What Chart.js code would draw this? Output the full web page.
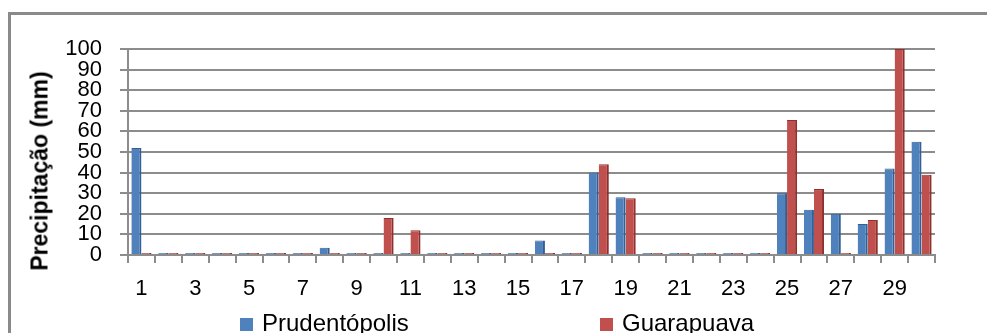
<!DOCTYPE html>
<html>
<head>
<meta charset="utf-8">
<script src="https://cdn.jsdelivr.net/npm/chart.js@4"></script>
<style>
  html, body { margin: 0; padding: 0; overflow: hidden; background: #fff; }
  #wrap { position: relative; width: 987px; height: 333px; }
  #frame { position: absolute; left: 8px; top: 12px; width: 1000px; height: 400px;
           border-left: 3px solid #8a8a8a; border-top: 3px solid #8a8a8a; }
  #myChart { position: absolute; left: 0; top: 0; }
  #ytitle { position: absolute; left: 40px; top: 171px; transform: translate(-50%, -50%) rotate(-90deg);
            font: bold 23px "Liberation Sans", Arial, sans-serif; white-space: nowrap; color: #000; }
  .leg { position: absolute; top: 309px; font: 24px "Liberation Sans", Arial, sans-serif; color: #000;
         white-space: nowrap; line-height: 28px; }
  .leg span { display: inline-block; width: 13px; height: 13px; margin-right: 9px; vertical-align: 0px; }
</style>
</head>
<body>
<div id="wrap">
  <div id="frame"></div>
  <canvas id="myChart" width="987" height="333"></canvas>
  <div id="ytitle">Precipitação (mm)</div>
  <div id="legend"></div>
</div>
<script>
"use strict"
// Dias do mês
const dias = Array.from({ length: 30 }, (_, i) => String(i + 1));

// Precipitação diária (mm)
const prudentopolis = [52, 0, 0, 0, 0, 0, 0, 3.5, 0, 0, 0, 0, 0, 0, 0, 7, 0, 40, 28, 0, 0, 0, 0, 0, 30, 22, 20, 15, 42, 55];
const guarapuava    = [0, 0, 0, 0, 0, 0, 0, 0, 0, 18, 12, 0, 0, 0, 0, 0, 0, 44, 27.5, 0, 0, 0, 0, 0, 65.5, 32, 0, 17, 100, 39];

const yTicksMax = 100;
const yStep = 10;

const series = [
    { label: 'Prudentópolis', data: prudentopolis, color: '#4F81BD', side: '#345F93' },
    { label: 'Guarapuava', data: guarapuava, color: '#C0504D', side: '#8E302E' }
];

const gridColor = '#8c8c8c';
const tickFont = { family: '"Liberation Sans", Arial, sans-serif', size: 22 };

const config = {
    type: 'bar',
    data: {
        labels: dias,
        datasets: series.map(s => ({
            label: s.label,
            data: s.data,
            backgroundColor: s.color,
            borderColor: s.side,
            borderWidth: { right: 2, top: 1, left: 0, bottom: 0 },
            minBarLength: 2,
            categoryPercentage: 0.75,
            barPercentage: 1.0
        }))
    },
    options: {
        responsive: false,
        animation: false,
        layout: { padding: { top: 49, right: 52, left: 0, bottom: 0 } },
        plugins: {
            legend: { display: false },
            tooltip: { enabled: false }
        },
        scales: {
            x: {
                offset: true,
                grid: { display: true, drawOnChartArea: false, drawTicks: true, tickLength: 8, color: gridColor, lineWidth: 2 },
                border: { display: true, color: gridColor, width: 2 },
                ticks: {
                    autoSkip: false,
                    maxRotation: 0,
                    padding: 13,
                    color: '#000',
                    font: tickFont,
                    callback: function (val, idx) { return idx % 2 === 0 ? this.getLabelForValue(val) : ''; }
                },
                afterFit: scale => { scale.height = 78; }
            },
            y: {
                min: 0,
                max: yTicksMax,
                ticks: { stepSize: yStep, autoSkip: false, padding: 18, color: '#000', font: tickFont },
                grid: { color: gridColor, lineWidth: 2, tickLength: 8 },
                border: { display: true, color: gridColor, width: 2 },
                afterFit: scale => { scale.width = 128; }
            }
        }
    }
};

const my_chart = new Chart(document.getElementById('myChart'), config);

// Legenda em HTML a partir dos datasets
const legendPos = [240, 600];
const legendEl = document.getElementById('legend');
my_chart.data.datasets.forEach((ds, i) => {
    const item = document.createElement('div');
    item.className = 'leg';
    item.style.left = legendPos[i] + 'px';
    const box = document.createElement('span');
    box.style.background = ds.backgroundColor;
    item.appendChild(box);
    item.appendChild(document.createTextNode(ds.label));
    legendEl.appendChild(item);
});
</script>
</body>
</html>
